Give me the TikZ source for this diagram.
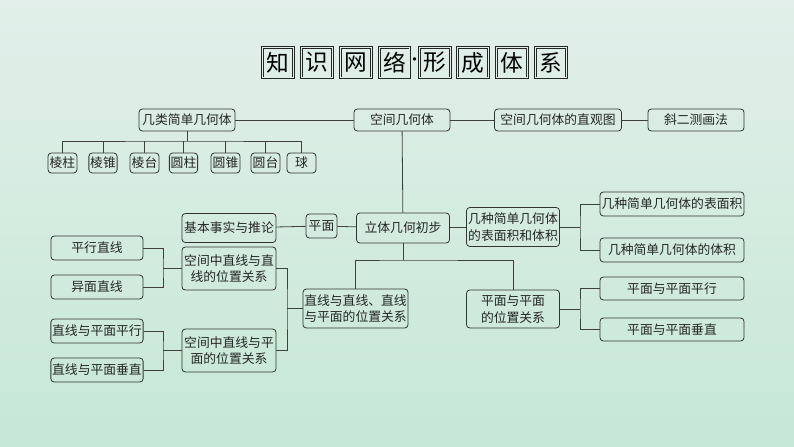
\documentclass[tikz,border=0pt]{standalone}
\usepackage{fontspec}
\setmainfont{Noto Sans CJK SC}
\definecolor{bgtop}{HTML}{E2EFEA}
\definecolor{bgbot}{HTML}{C6E8D6}
\begin{document}
\begin{tikzpicture}[x=0.75pt,y=-0.75pt,
  bx/.style={draw=black!80,line width=0.6pt,rounded corners=2.5pt,inner sep=1pt,align=center,
    font=\fontsize{9.6}{12.5}\selectfont,text=black!85},
  w/.style={minimum width={#1*0.75pt}},
  h/.style={minimum height={#1*0.75pt}},
  tb/.style={draw=black!85,double=bgtop,double distance=0.8pt,line width=0.6pt,
    minimum width=23pt,minimum height=23pt,inner sep=0pt,font=\fontsize{17}{17}\selectfont},
  ln/.style={draw=black!75,line width=0.6pt}]
\shade[bottom color=bgbot,top color=bgtop] (0,0) rectangle (794,447);
\useasboundingbox (0,0) rectangle (794,447);
% title
\foreach \c/\x [count=\i] in {知/278,识/317,网/356,络/394.5,形/435,成/473,体/512,系/551}
  \node[tb] (t\i) at (\x,62.5) {\c};
\node[font=\fontsize{12}{12}\selectfont,inner sep=0pt] (dot) at (414.5,62) {·};
% top row
\node[bx,w=96,h=22] (lei) at (187,120) {几类简单几何体};
\node[bx,w=96,h=22] (kj) at (402,120) {空间几何体};
\node[bx,w=127,h=22] (zg) at (558,120) {空间几何体的直观图};
\node[bx,w=96,h=22] (xe) at (696,120) {斜二测画法};
\foreach \n/\t/\x/\ww in {a/棱柱/62.5/29,b/棱锥/103/28,c/棱台/144.5/29,d/圆柱/183.5/27,e/圆锥/225.5/29,f/圆台/265.5/29,g/球/301.5/29}
  \node[bx,w=\ww,h=20] (\n) at (\x,163) {\t};
\coordinate (bus) at (187,141);
\draw[ln] (lei) -- (bus);
\draw[ln] (a.north) |- (bus) -| (g.north);
\foreach \n in {b,c,d,e,f} \draw[ln] (\n.north) -- (\n.north |- bus);
\draw[ln] (lei) -- (kj); \draw[ln] (kj) -- (zg); \draw[ln] (zg) -- (xe);
% middle
\node[bx,w=94,h=29] (jb) at (229,228) {基本事实与推论};
\node[bx,w=31,h=24] (pm) at (321.5,226) {平面};
\node[bx,w=93,h=30] (lt) at (403,228) {立体几何初步};
\node[bx,w=93,h=39] (jz) at (513,227) {几种简单几何体\\的表面积和体积};
\node[bx,w=144,h=24] (bmj) at (672,204) {几种简单几何体的表面积};
\node[bx,w=144,h=24] (tj) at (672,250) {几种简单几何体的体积};
\node[bx,w=144,h=23] (pp) at (672,288.5) {平面与平面平行};
\node[bx,w=144,h=23] (pc) at (672,329.5) {平面与平面垂直};
\node[bx,w=93,h=38] (ppw) at (513,309) {平面与平面\\的位置关系};
\node[bx,w=103,h=39] (zz) at (355.5,308.5) {直线与直线、直线\\与平面的位置关系};
\node[bx,w=94,h=43] (kz) at (229,268.5) {空间中直线与直\\线的位置关系};
\node[bx,w=94,h=43] (kp) at (229,350.5) {空间中直线与平\\面的位置关系};
\node[bx,w=92,h=24] (px) at (97,248) {平行直线};
\node[bx,w=92,h=24] (ym) at (97,287) {异面直线};
\node[bx,w=92,h=24] (zp) at (97,331) {直线与平面平行};
\node[bx,w=92,h=24] (zc) at (97,370) {直线与平面垂直};
\draw[ln] (kj) -- (lt);
\draw[ln] (jb) -- (pm); \draw[ln] (pm) -- (lt); \draw[ln] (lt) -- (jz);
\coordinate (hb) at (403,260);
\draw[ln] (lt) -- (hb);
\draw[ln] (zz.north) |- (hb) -| (ppw.north);
\coordinate (r1) at (580,227); \coordinate (r2) at (580,309);
\draw[ln] (jz) -- (r1); \draw[ln] (bmj.west) -| (r1) |- (tj.west);
\draw[ln] (ppw) -- (r2); \draw[ln] (pp.west) -| (r2) |- (pc.west);
\coordinate (l1) at (163,268.5); \coordinate (l2) at (163,350.5); \coordinate (l3) at (287,308.5);
\draw[ln] (l1) -- (kz); \draw[ln] (px.east) -| (l1) |- (ym.east);
\draw[ln] (l2) -- (kp); \draw[ln] (zp.east) -| (l2) |- (zc.east);
\draw[ln] (l3) -- (zz); \draw[ln] (kz.east) -| (l3) |- (kp.east);
\end{tikzpicture}
\end{document}
